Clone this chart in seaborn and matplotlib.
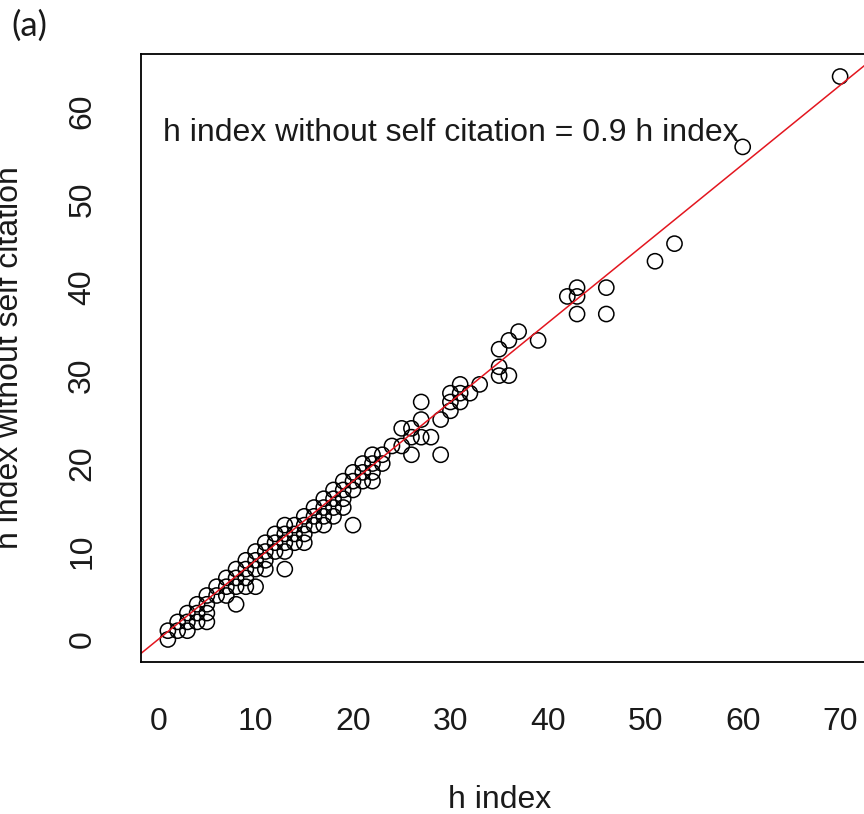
import numpy as np
import pandas as pd
import matplotlib
matplotlib.use('Agg')
import matplotlib.pyplot as plt
import seaborn as sns

# h index values (x) and h index without self citation (y)
h_index = [70, 60, 53, 51, 46, 46, 43, 43, 43, 42, 39, 37, 36, 36, 35, 35, 35,
           33, 32, 31, 31, 31, 30, 30, 30, 29, 29, 28, 27, 27, 27, 26, 26, 26,
           25, 25, 24, 23, 23, 22, 22, 22, 22, 21, 21, 21, 20, 20, 20, 20,
           19, 19, 19, 19, 18, 18, 18, 18, 17, 17, 17, 17, 16, 16, 16,
           15, 15, 15, 15, 14, 14, 14, 13, 13, 13, 13, 13, 12, 12, 12,
           11, 11, 11, 11, 10, 10, 10, 10, 9, 9, 9, 9, 8, 8, 8, 8,
           7, 7, 7, 6, 6, 5, 5, 5, 5, 4, 4, 4, 3, 3, 3, 2, 2, 1, 1]
h_no_self = [64, 56, 45, 43, 40, 37, 40, 39, 37, 39, 34, 35, 34, 30, 33, 31, 30,
             29, 28, 29, 28, 27, 28, 27, 26, 25, 21, 23, 27, 25, 23, 24, 23, 21,
             24, 22, 22, 21, 20, 21, 20, 19, 18, 20, 19, 18, 19, 18, 17, 13,
             18, 17, 16, 15, 17, 16, 15, 14, 16, 15, 14, 13, 15, 14, 13,
             14, 13, 12, 11, 13, 12, 11, 13, 12, 11, 10, 8, 12, 11, 10,
             11, 10, 9, 8, 10, 9, 8, 6, 9, 8, 7, 6, 8, 7, 6, 4,
             7, 6, 5, 6, 5, 5, 4, 3, 2, 4, 3, 2, 3, 2, 1, 2, 1, 1, 0]
slope = 0.9

x_ticks = [0, 10, 20, 30, 40, 50, 60, 70]
y_ticks = [0, 10, 20, 30, 40, 50, 60]

df = pd.DataFrame({'h': h_index, 'h_ns': h_no_self})

sns.set_style('white')
plt.rcParams['font.family'] = ['Liberation Sans', 'DejaVu Sans']

fig = plt.figure(figsize=(8.64, 8.14), dpi=100)
W, H = 864, 814
ax = fig.add_axes([141 / W, 1 - 662 / H, (867 - 141) / W, (662 - 54) / H])

# open circles like R's pch=1
sns.scatterplot(data=df, x='h', y='h_ns', ax=ax, s=120, linewidth=1.1,
                legend=False)
pts = ax.collections[0]
pts.set_facecolor('none')
pts.set_edgecolor('black')

# reference line y = 0.9 x
ax.axline((0, 0), slope=slope, color='#e3161f', linewidth=1.1)

ax.set_xlim(-1.76, 72.76)
ax.set_ylim(-2.56, 66.56)
ax.set_xticks(x_ticks)
ax.set_yticks(y_ticks)
ax.tick_params(axis='both', direction='out', length=14.5, width=1.1,
               labelsize=23, color='black', labelcolor='#1a1a1a')
ax.tick_params(axis='x', pad=18)
ax.tick_params(axis='y', pad=17)
for lbl in ax.get_yticklabels():
    lbl.set_rotation(90)
    lbl.set_va('center')
for sp in ax.spines.values():
    sp.set_color('black')
    sp.set_linewidth(1.3)

ax.set_xlabel('')
ax.set_ylabel('')
fig.text(500 / W, 1 - 800 / H, 'h index', ha='center', va='center',
         fontsize=23, color='#1a1a1a')
fig.text(10 / W, 1 - 358 / H, 'h index without self citation', ha='center',
         va='center', rotation=90, fontsize=23, color='#1a1a1a')

ax.text(0.5, 57.6, 'h index without self citation = 0.9 h index', ha='left',
        va='center', fontsize=23, color='#1a1a1a')

fig.text(11 / W, 1 - 26 / H, '(a)', ha='left', va='center', fontsize=25,
         family=['Lato', 'DejaVu Sans'], color='#1a1a1a')

fig.savefig('out.png', dpi=100)
